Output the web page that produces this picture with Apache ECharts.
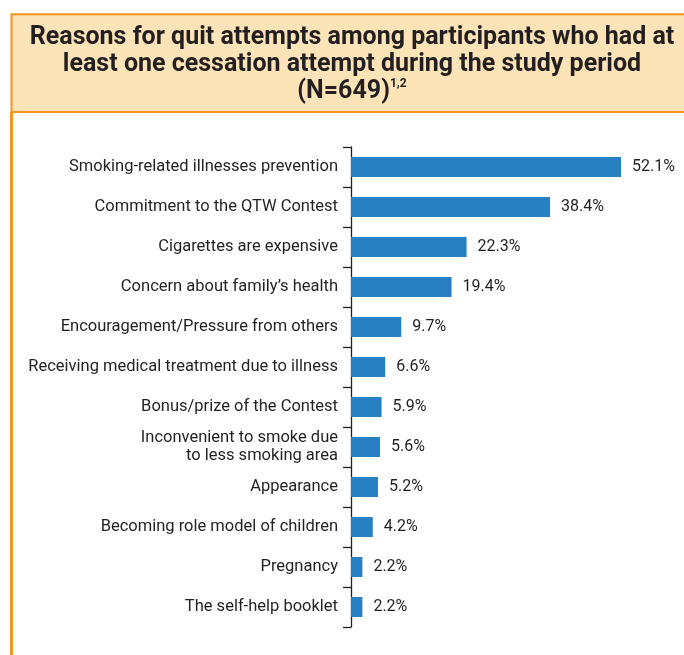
<!DOCTYPE html>
<html>
<head>
<meta charset="utf-8">
<script src="https://cdn.jsdelivr.net/npm/echarts@6/dist/echarts.min.js"></script>
<style>
html,body{margin:0;padding:0;background:#fff;}
#chart{width:684px;height:655px;}
</style>
</head>
<body>
<div id="chart"></div>
<script>
const titleLines = [
  'Reasons for quit attempts among participants who had at',
  'least one cessation attempt during the study period',
  '(N=649)'
];
const titleSup = '1,2';
const categories = [
  'Smoking-related illnesses prevention',
  'Commitment to the QTW Contest',
  'Cigarettes are expensive',
  'Concern about family\u2019s health',
  'Encouragement/Pressure from others',
  'Receiving medical treatment due to illness',
  'Bonus/prize of the Contest',
  'Inconvenient to smoke due\nto less smoking area',
  'Appearance',
  'Becoming role model of children',
  'Pregnancy',
  'The self-help booklet'
];
const percents = [52.1, 38.4, 22.3, 19.4, 9.7, 6.6, 5.9, 5.6, 5.2, 4.2, 2.2, 2.2];

const ink = '#231F20';
const orange = '#F7941D';
const chart = echarts.init(document.getElementById('chart'), null, {renderer: 'canvas'});
chart.setOption({
  backgroundColor: '#ffffff',
  animation: false,
  graphic: [
    {type: 'rect', z: -10, shape: {x: 11.5, y: 14.3, width: 700, height: 97.7},
     style: {fill: '#FDE3B8', stroke: orange, lineWidth: 2}},
    {type: 'line', z: -10, shape: {x1: 11.5, y1: 112, x2: 11.5, y2: 660},
     style: {stroke: orange, lineWidth: 3}}
  ],
  title: {
    text: titleLines.join('\n') + '{sup|' + titleSup + '}',
    left: 352,
    top: 24,
    textAlign: 'center',
    padding: 0,
    textStyle: {
      fontFamily: 'Roboto',
      fontWeight: 'bold',
      fontSize: 25,
      lineHeight: 27,
      color: ink,
      rich: {
        sup: {fontFamily: 'Roboto', fontWeight: 'bold', fontSize: 12, lineHeight: 12,
              verticalAlign: 'top', color: ink}
      }
    }
  },
  grid: {left: 351, right: 22, top: 147, bottom: 28, containLabel: false},
  xAxis: {type: 'value', min: 0, max: 60, show: false},
  yAxis: {
    type: 'category',
    data: categories,
    inverse: true,
    boundaryGap: true,
    axisLine: {show: true, lineStyle: {color: ink, width: 1.3}},
    axisTick: {show: true, length: 8, inside: false, lineStyle: {color: ink, width: 1.3}},
    axisLabel: {fontFamily: 'Roboto', fontSize: 16.5, color: ink, margin: 13, lineHeight: 17.5, align: 'right'},
    splitLine: {show: false}
  },
  series: [{
    type: 'bar',
    data: percents,
    barWidth: '50%',
    itemStyle: {color: '#2680C2'},
    label: {
      show: true, position: 'right', distance: 11,
      formatter: '{c}%', fontFamily: 'Roboto', fontSize: 16, color: ink
    }
  }]
});
</script>
</body>
</html>
